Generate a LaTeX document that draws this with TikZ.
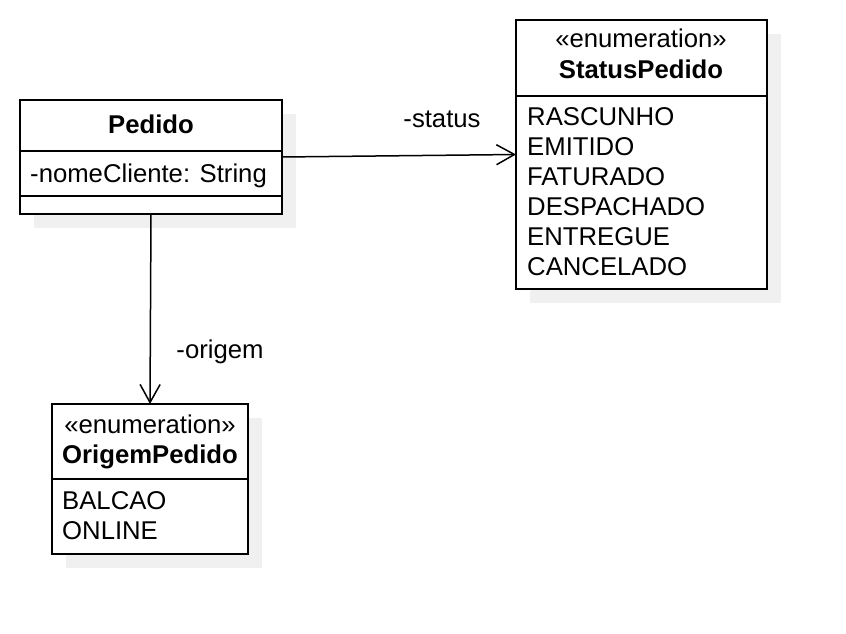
\documentclass[tikz,border=0pt]{standalone}
\usepackage{fontspec}
\setmainfont{Liberation Sans}
\usetikzlibrary{arrows.meta, positioning, calc, shadows}

\begin{document}
\begin{tikzpicture}[
    x=1pt, y=-1pt,
    font=\fontsize{25.7}{30}\selectfont,
    classbox/.style={rectangle, draw, line width=2pt, fill=white, anchor=north west,
        inner sep=0pt, outer sep=0pt,
        drop shadow={shadow xshift=14pt, shadow yshift=-14pt, fill=black!6, opacity=1}},
    sepline/.style={line width=2pt},
    title/.style={anchor=base, inner sep=0pt},
    member/.style={anchor=base west, inner sep=0pt},
    rolename/.style={anchor=base, inner sep=0pt},
    assoc/.style={line width=1.5pt, -{Straight Barb[length=18pt, width=20pt]}}
]
    \useasboundingbox (0,0) rectangle (846,634);

    % Pedido class
    \node[classbox, minimum width=262pt, minimum height=114pt] (pedido) at (20,100) {};
    \draw[sepline] ($(pedido.north west)+(0,51)$) -- ($(pedido.north east)+(0,51)$);
    \draw[sepline] ($(pedido.north west)+(0,96)$) -- ($(pedido.north east)+(0,96)$);
    \node[title] (pedidoName) at (151,133) {\bfseries Pedido};
    \node[member] (nomeCliente) at (30,182) {-nomeCliente: String};

    % StatusPedido enumeration
    \node[classbox, minimum width=251pt, minimum height=269pt] (status) at (516,20) {};
    \draw[sepline] ($(status.north west)+(0,76)$) -- ($(status.north east)+(0,76)$);
    \node[title] (statusStereo) at (641,48) {«enumeration»};
    \node[title] (statusName) at (641,78) {\bfseries StatusPedido};
    \node[member] (rascunho) at (527,125) {RASCUNHO};
    \node[member] (emitido) at (527,155) {EMITIDO};
    \node[member] (faturado) at (527,185) {FATURADO};
    \node[member] (despachado) at (527,215) {DESPACHADO};
    \node[member] (entregue) at (527,245) {ENTREGUE};
    \node[member] (cancelado) at (527,275) {CANCELADO};

    % OrigemPedido enumeration
    \node[classbox, minimum width=196pt, minimum height=150pt] (origem) at (52,404) {};
    \draw[sepline] ($(origem.north west)+(0,75)$) -- ($(origem.north east)+(0,75)$);
    \node[title] (origemStereo) at (150,433) {«enumeration»};
    \node[title] (origemName) at (150,463) {\bfseries OrigemPedido};
    \node[member] (balcao) at (62,509) {BALCAO};
    \node[member] (online) at (62,539) {ONLINE};

    % associations
    \draw[assoc] (pedido.east) -- (status.west);
    \node[rolename] (statusRole) at (442,127) {-status};
    \draw[assoc] (pedido.south) -- (origem.north);
    \node[rolename] (origemRole) at (220,358) {-origem};
\end{tikzpicture}
\end{document}
